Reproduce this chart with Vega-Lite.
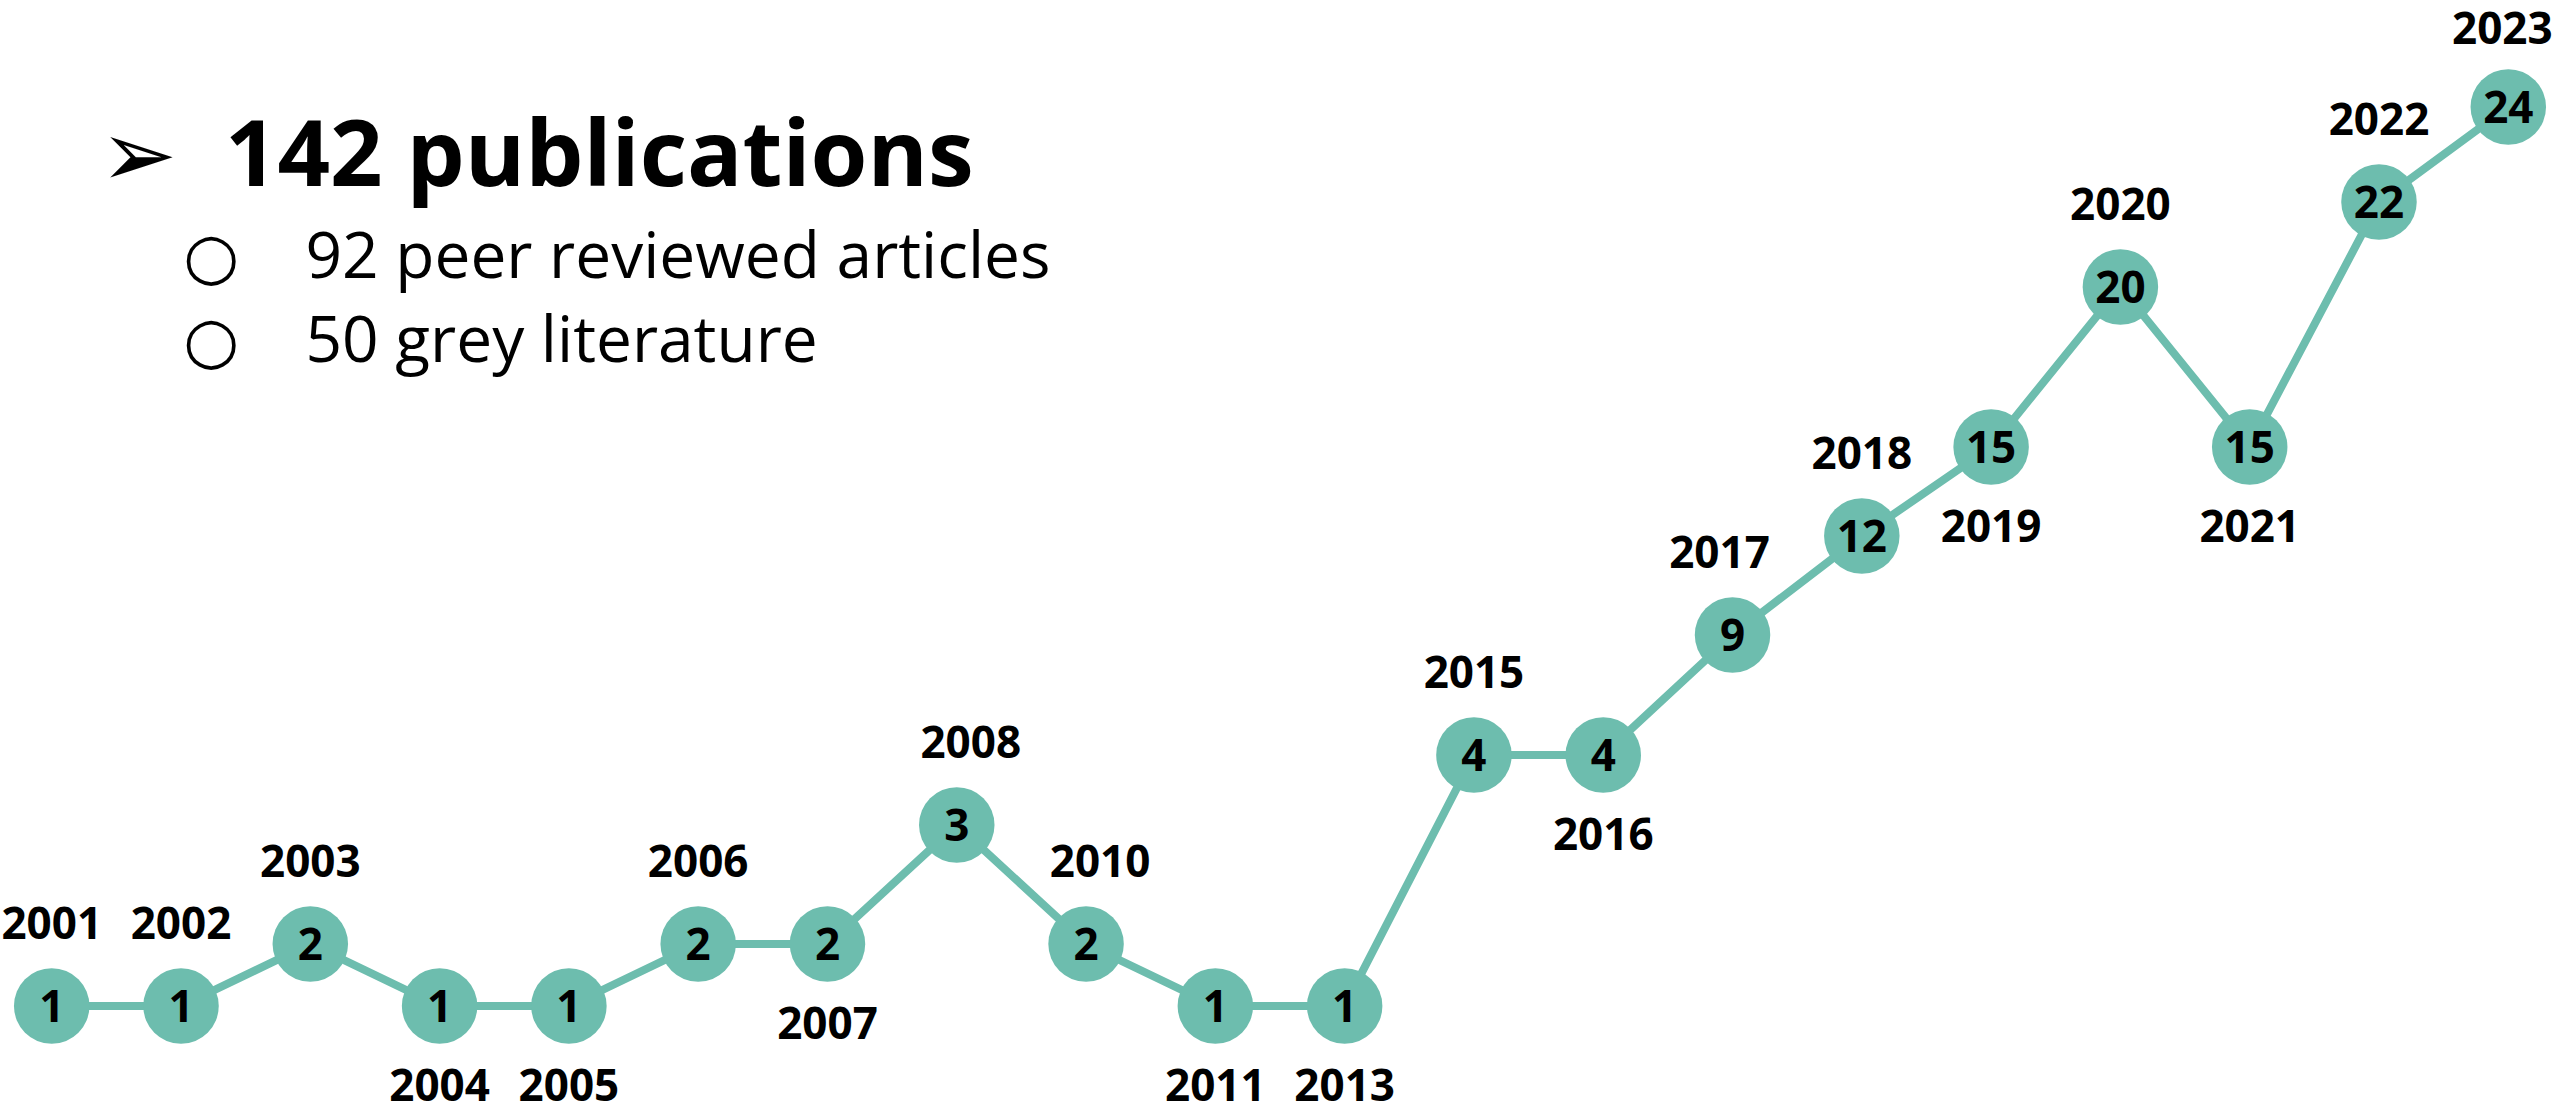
{
  "$schema": "https://vega.github.io/schema/vega-lite/v6.json",
  "width": 2560,
  "height": 1113,
  "autosize": {"type": "none"},
  "padding": 0,
  "background": "white",
  "config": {"view": {"stroke": null}},
  "title": {
    "text": "➢\u00a0\u00a0142 publications",
    "subtitle": ["\u200b\u00a0\u00a0\u00a0\u00a0\u00a0○\u00a0\u00a0\u00a0\u00a092 peer reviewed articles", "\u200b\u00a0\u00a0\u00a0\u00a0\u00a0○\u00a0\u00a0\u00a0\u00a050 grey literature"],
    "anchor": "start",
    "frame": "group",
    "orient": "top",
    "dx": 100,
    "dy": 380,
    "font": "Open Sans, DejaVu Sans",
    "fontSize": 92,
    "fontWeight": "bold",
    "color": "black",
    "subtitleFont": "Open Sans, DejaVu Sans",
    "subtitleFontSize": 64,
    "subtitleFontWeight": "normal",
    "subtitleColor": "black",
    "subtitleLineHeight": 84,
    "subtitlePadding": 22
  },
  "data": {
    "values": [
      {"year": 2001, "count": 1},
      {"year": 2002, "count": 1},
      {"year": 2003, "count": 2},
      {"year": 2004, "count": 1},
      {"year": 2005, "count": 1},
      {"year": 2006, "count": 2},
      {"year": 2007, "count": 2},
      {"year": 2008, "count": 3},
      {"year": 2010, "count": 2},
      {"year": 2011, "count": 1},
      {"year": 2013, "count": 1},
      {"year": 2015, "count": 4},
      {"year": 2016, "count": 4},
      {"year": 2017, "count": 9},
      {"year": 2018, "count": 12},
      {"year": 2019, "count": 15},
      {"year": 2020, "count": 20},
      {"year": 2021, "count": 15},
      {"year": 2022, "count": 22},
      {"year": 2023, "count": 24}
    ]
  },
  "encoding": {
    "x": {"field": "year", "type": "ordinal", "axis": null, "scale": {"type": "point", "padding": 0.4}},
    "y": {"field": "count", "type": "quantitative", "axis": null,
      "scale": {"domain": [1, 2, 3, 4, 9, 12, 15, 20, 22, 24], "range": [1006, 944, 825, 755, 635, 536, 447, 287, 202, 107], "zero": false, "nice": false}}
  },
  "layer": [
    {"mark": {"type": "line", "color": "#6dbdae", "strokeWidth": 8}},
    {"mark": {"type": "circle", "color": "#6dbdae", "opacity": 1, "size": 5700}},
    {"mark": {"type": "text", "font": "Open Sans", "fontWeight": "bold", "fontSize": 44, "color": "black", "dy": 16, "baseline": "alphabetic"},
      "encoding": {"text": {"field": "count", "type": "quantitative"}}},
    {"transform": [{"filter": {"field": "year", "oneOf": [2001, 2002, 2003, 2006, 2015, 2018, 2020, 2022]}}],
      "mark": {"type": "text", "font": "Open Sans", "fontWeight": "bold", "fontSize": 44, "color": "black", "dy": -67, "baseline": "alphabetic"},
      "encoding": {"text": {"field": "year", "type": "ordinal"}}},
    {"transform": [{"filter": {"field": "year", "oneOf": [2023]}}],
      "mark": {"type": "text", "font": "Open Sans", "fontWeight": "bold", "fontSize": 44, "color": "black", "dy": -63, "dx": -6, "baseline": "alphabetic"},
      "encoding": {"text": {"field": "year", "type": "ordinal"}}},
    {"transform": [{"filter": {"field": "year", "oneOf": [2008, 2010]}}],
      "mark": {"type": "text", "font": "Open Sans", "fontWeight": "bold", "fontSize": 44, "color": "black", "dy": -67, "dx": 14, "baseline": "alphabetic"},
      "encoding": {"text": {"field": "year", "type": "ordinal"}}},
    {"transform": [{"filter": {"field": "year", "oneOf": [2017]}}],
      "mark": {"type": "text", "font": "Open Sans", "fontWeight": "bold", "fontSize": 44, "color": "black", "dy": -67, "dx": -13, "baseline": "alphabetic"},
      "encoding": {"text": {"field": "year", "type": "ordinal"}}},
    {"transform": [{"filter": {"field": "year", "oneOf": [2004, 2005, 2007, 2011, 2013, 2016, 2019, 2021]}}],
      "mark": {"type": "text", "font": "Open Sans", "fontWeight": "bold", "fontSize": 44, "color": "black", "dy": 95, "baseline": "alphabetic"},
      "encoding": {"text": {"field": "year", "type": "ordinal"}}}
  ]
}
